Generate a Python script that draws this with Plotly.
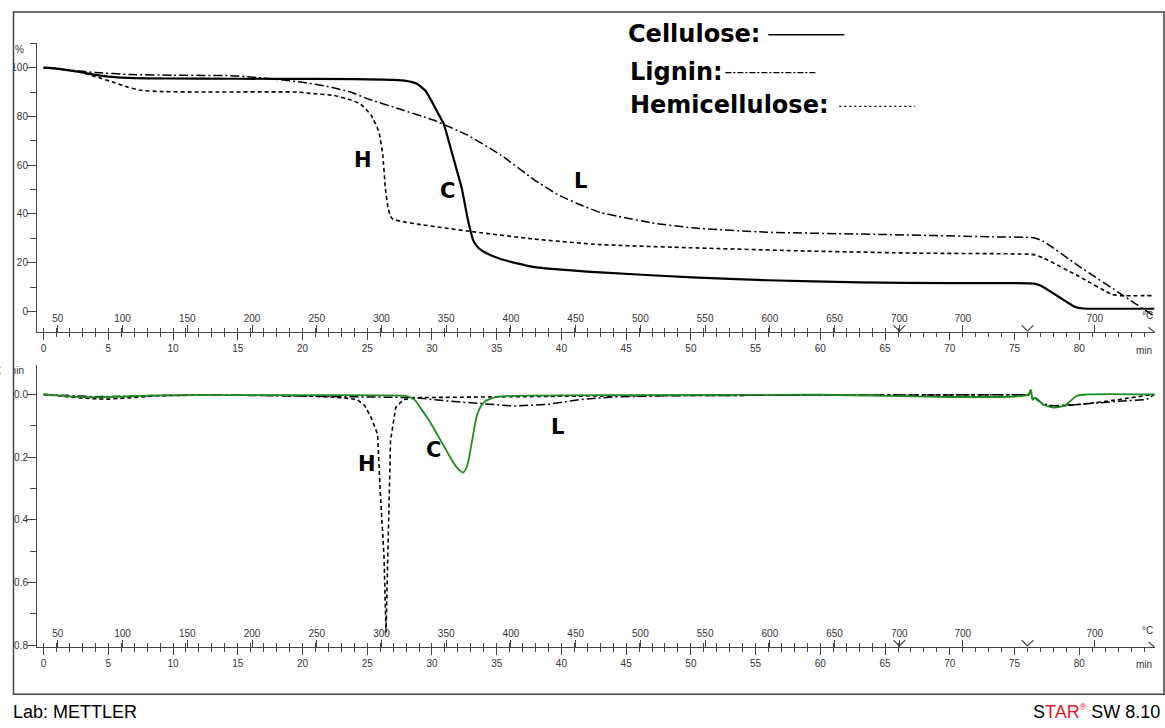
import plotly.graph_objects as go

W, H = 1165, 728

# ---------------- TGA data (weight %, time in min) ----------------
cel_t = [0, 1, 2, 3, 4, 5, 6, 8, 12, 18, 24, 27, 28, 28.8, 29.5, 30.1, 30.5, 30.9, 31.6, 32.3, 32.8,
         33.2, 33.6, 34.0, 35.3, 37.8, 43, 50.1, 55.9, 63, 70, 76.5, 77.0, 78.0, 79.0, 79.7, 80.3, 83, 85.8]
cel_w = [100, 99.6, 98.9, 98.0, 97.0, 96.3, 95.9, 95.6, 95.5, 95.4, 95.3, 95.0, 94.6, 93.5, 90.5, 85,
         81, 77, 64, 50.5, 37, 29, 26, 24.5, 21.5, 18.3, 16.0, 14.0, 12.8, 11.9, 11.6, 11.4, 10.6, 7.4,
         4.0, 1.8, 1.2, 1.1, 1.1]

lig_t = [0, 2, 4, 6.7, 10, 14.5, 16, 18.3, 20, 22, 23.7, 25, 27.5, 30.1, 32.7, 35.3, 37.9, 39.7, 41.7,
         43, 44.4, 47, 50.1, 55.9, 64.6, 73.3, 76.5, 77.2, 80, 83.4, 85.8]
lig_w = [100, 99, 98, 97.2, 96.9, 96.7, 96.2, 95, 94, 92.2, 90, 87.3, 83, 78.5, 72.4, 64.2, 54, 48,
         43.2, 40.6, 39, 36.3, 34.3, 32.5, 31.6, 30.6, 30.2, 28.8, 18.5, 6.5, -2.0]

hem_t = [0, 1, 2, 2.9, 4, 5.4, 6.5, 7.5, 9, 12, 19.6, 20.5, 22.4, 23.7, 24.5, 25.3, 25.9, 26.2, 26.4,
         26.6, 26.8, 27.0, 28, 28.9, 32.7, 37.9, 43, 50.1, 58.8, 67.5, 76.5, 77.2, 80, 82.5, 83.2, 85.8]
hem_w = [100, 99.6, 98.8, 98, 96.3, 94, 92, 90.7, 90.2, 90, 90, 89.5, 88.6, 86.8, 85, 80.5, 73.7, 64.2,
         50.7, 42.7, 39, 37.8, 36.6, 35.8, 33, 29.7, 27.4, 26.1, 24.8, 23.9, 23.3, 22.0, 14.3, 7.0, 6.5, 6.5]

# ---------------- DTG data ----------------
cel_dt = [0, 2, 4, 6, 8, 12, 20, 26, 28.1, 28.6, 29.1, 29.8, 30.4, 31.0, 31.4, 31.9, 32.4, 32.7, 33.1,
          33.5, 34.0, 35, 37, 45, 60, 76.1, 76.25, 76.4, 76.6, 77.2, 78, 78.5, 79, 79.8, 80.6, 85.8]
cel_dv = [0, -0.006, -0.009, -0.007, -0.004, -0.002, -0.002, -0.003, -0.006, -0.015, -0.042, -0.085,
          -0.127, -0.17, -0.2, -0.232, -0.249, -0.23, -0.148, -0.063, -0.026, -0.008, -0.004, -0.002,
          -0.001, 0, 0.015, -0.015, -0.01, -0.032, -0.042, -0.04, -0.032, -0.005, 0, 0]

hem_dt = [0, 1, 3, 5, 7, 9, 12, 18, 21, 23, 24.2, 24.8, 25.3, 25.8, 26.0, 26.3, 26.45, 26.6, 26.7,
          26.8, 27.2, 27.8, 29, 35, 45, 60, 76.1, 76.25, 76.4, 76.6, 77.2, 78, 79, 80, 81.3, 83.1, 85.7]
hem_dv = [0, -0.004, -0.012, -0.015, -0.01, -0.004, -0.002, -0.003, -0.006, -0.01, -0.016, -0.035,
          -0.074, -0.127, -0.306, -0.52, -0.76, -0.52, -0.31, -0.147, -0.042, -0.016, -0.01, -0.008,
          -0.004, -0.002, -0.001, 0.014, -0.016, -0.012, -0.032, -0.04, -0.036, -0.032, -0.026, -0.016, 0]

lig_dt = [0, 2, 4, 6, 9, 14, 20, 24, 28.6, 31.2, 34.3, 36.3, 38.9, 41.5, 44, 48, 60, 76.1, 76.25,
          76.4, 76.6, 77.2, 78, 80, 82.6, 85.2, 85.8]
lig_dv = [0, -0.004, -0.007, -0.006, -0.003, -0.002, -0.005, -0.008, -0.01, -0.021, -0.032, -0.037,
          -0.032, -0.016, -0.008, -0.004, -0.002, -0.001, 0.014, -0.015, -0.012, -0.03, -0.036, -0.032,
          -0.023, -0.016, 0]

# ---------------- axis labels ----------------
time_ticks = list(range(0, 81, 5))
time_labels = [str(v) for v in time_ticks]
temp_labels = ["50", "100", "150", "200", "250", "300", "350", "400", "450", "500", "550", "600",
               "650", "700", "700", "700"]
temp_times = [1.1, 6.1, 11.1, 16.1, 21.1, 26.1, 31.1, 36.1, 41.1, 46.1, 51.1, 56.1, 61.1, 66.1, 71.0, 81.2]
segment_marks = [66.1, 76.0]
tga_ticks = [0, 20, 40, 60, 80, 100]
tga_labels = ["0", "20", "40", "60", "80", "100"]
dtg_ticks = [0, -0.2, -0.4, -0.6, -0.8]
dtg_labels = ["0.0", "-0.2", "-0.4", "-0.6", "-0.8"]
tga_unit = "%"
dtg_unit = "1/min"

XR = [-0.51, 85.85]
YR1 = [-8.5, 110.2]
YR2 = [-0.806, 0.095]
X0, X1 = 36 / W, 1155 / W
Y1_BOTTOM = 334
Y2_BOTTOM = 396.7 + 0.806 * 315


def py(y):
    return 1 - y / H


def pxx(x):
    return x / W


fig = go.Figure()
DASH_H = "4px,3px"
DASH_L = "9px,3px,2px,3px"

fig.add_trace(go.Scatter(x=cel_t, y=cel_w, mode="lines", line=dict(color="black", width=2.2, shape="spline", smoothing=0.5),
                         xaxis="x", yaxis="y", showlegend=False, hoverinfo="skip"))
fig.add_trace(go.Scatter(x=lig_t, y=lig_w, mode="lines", line=dict(color="black", width=1.5, dash=DASH_L, shape="spline", smoothing=0.5),
                         xaxis="x", yaxis="y", showlegend=False, hoverinfo="skip"))
fig.add_trace(go.Scatter(x=hem_t, y=hem_w, mode="lines", line=dict(color="black", width=1.6, dash=DASH_H, shape="spline", smoothing=0.4),
                         xaxis="x", yaxis="y", showlegend=False, hoverinfo="skip"))

fig.add_trace(go.Scatter(x=lig_dt, y=lig_dv, mode="lines", line=dict(color="black", width=1.5, dash=DASH_L),
                         xaxis="x2", yaxis="y2", showlegend=False, hoverinfo="skip"))
fig.add_trace(go.Scatter(x=hem_dt, y=hem_dv, mode="lines", line=dict(color="black", width=1.6, dash=DASH_H),
                         xaxis="x2", yaxis="y2", showlegend=False, hoverinfo="skip"))
fig.add_trace(go.Scatter(x=cel_dt, y=cel_dv, mode="lines", line=dict(color="#1f8a1f", width=1.8, shape="spline", smoothing=0.7),
                         xaxis="x2", yaxis="y2", showlegend=False, hoverinfo="skip"))
# placeholder traces registering the overlay axes (temperature scale, unit labels)
for xa, ya in [("x3", "y"), ("x4", "y2"), ("x", "y3"), ("x2", "y4")]:
    fig.add_trace(go.Scatter(x=[None], y=[None], xaxis=xa, yaxis=ya, showlegend=False, hoverinfo="skip"))

tickfont = dict(family="Liberation Sans, Arial", size=10, color="#333")
minor_in = [i for i in range(0, 67)]


def time_axis(anchor):
    return dict(domain=[X0, X1], range=XR, anchor=anchor, showgrid=False, zeroline=False,
                showline=True, linecolor="#444", linewidth=1, tickmode="array",
                tickvals=time_ticks, ticktext=time_labels, ticks="outside", ticklen=7,
                tickcolor="#444", tickfont=tickfont,
                minor=dict(dtick=1, ticks="outside", ticklen=4, tickcolor="#444"))


def temp_axis(over, ypix):
    # top-sided axis placed on the time-axis line: ticks and labels point up into the panel
    return dict(domain=[X0, X1], range=XR, overlaying=over, anchor="free", position=py(ypix), side="top",
                showgrid=False, zeroline=False, showline=False, tickmode="array",
                tickvals=temp_times, ticktext=temp_labels, ticks="outside", ticklen=7,
                tickcolor="#444", tickfont=tickfont, ticklabelstandoff=-1,
                minor=dict(tickvals=minor_in, ticks="outside", ticklen=4, tickcolor="#444"))


def unit_axis(over, anchor, rng, val, txt):
    return dict(overlaying=over, anchor=anchor, side="left", range=rng, showgrid=False,
                zeroline=False, showline=False, ticks="", tickmode="array", tickvals=[val],
                ticktext=[txt], tickfont=tickfont, ticklabelstandoff=12)


fig.update_layout(
    width=W, height=H, margin=dict(l=0, r=0, t=0, b=0),
    paper_bgcolor="white", plot_bgcolor="white",
    xaxis=time_axis("y"),
    xaxis2=time_axis("y2"),
    xaxis3=temp_axis("x", Y1_BOTTOM),
    xaxis4=temp_axis("x2", Y2_BOTTOM),
    yaxis=dict(domain=[py(Y1_BOTTOM), py(43)], range=YR1, anchor="x", showgrid=False,
               zeroline=False, showline=True, linecolor="#444", linewidth=1, tickmode="array",
               tickvals=tga_ticks, ticktext=tga_labels, ticks="outside", ticklen=9,
               tickcolor="#444", tickfont=tickfont, ticklabelstandoff=-3,
               minor=dict(dtick=10, ticks="outside", ticklen=6, tickcolor="#444")),
    yaxis2=dict(domain=[py(Y2_BOTTOM), py(366.7)], range=YR2, anchor="x2", showgrid=False,
                zeroline=False, showline=True, linecolor="#444", linewidth=1, tickmode="array",
                tickvals=dtg_ticks, ticktext=dtg_labels, ticks="outside", ticklen=9,
                tickcolor="#444", tickfont=tickfont, ticklabelstandoff=-3,
                minor=dict(tickvals=[-0.1, -0.3, -0.5, -0.7], ticks="outside", ticklen=6,
                           tickcolor="#444")),
    yaxis3=unit_axis("y", "x", YR1, 107.6, tga_unit),
    yaxis4=unit_axis("y2", "x2", YR2, 0.078, dtg_unit),
)

heavy = dict(family="DejaVu Sans", size=21, color="black", weight="bold")
ann = []
# curve letters
for txt, x, y, xr, yr in [("H", 24.7, 62, "x", "y"), ("C", 31.2, 49.5, "x", "y"), ("L", 41.5, 53.5, "x", "y"),
                          ("H", 25.0, -0.222, "x2", "y2"), ("C", 30.1, -0.176, "x2", "y2"),
                          ("L", 39.7, -0.103, "x2", "y2")]:
    ann.append(dict(text=txt, x=x, y=y, xref=xr, yref=yr, showarrow=False, font=heavy,
                    xanchor="center", yanchor="middle"))
# min / °C labels
for xr, ay in [("x", Y1_BOTTOM), ("x2", Y2_BOTTOM)]:
    ann.append(dict(text="min", x=85.0, y=py(ay + 18), xref=xr, yref="paper", showarrow=False, font=tickfont,
                    xanchor="center", yanchor="middle"))
    ann.append(dict(text="°C", x=85.3, y=py(ay - 17), xref=xr, yref="paper", showarrow=False, font=tickfont,
                    xanchor="center", yanchor="middle"))
# legend text
leg = dict(family="DejaVu Sans", size=24, color="black", weight="bold")
for txt, x, y in [("Cellulose:", 626, 34), ("Lignin:", 628, 72), ("Hemicellulose:", 628, 106)]:
    ann.append(dict(text=txt, x=pxx(x), y=py(y), xref="paper", yref="paper", xanchor="left",
                    yanchor="middle", showarrow=False, font=leg))
# footer
foot = dict(family="Liberation Sans, Arial", size=18, color="black")
ann.append(dict(text="Lab: METTLER", x=pxx(10), y=py(716), xref="paper", yref="paper", xanchor="left",
                yanchor="middle", showarrow=False, font=foot))
ann.append(dict(text="S<span style='color:#e8191f'>TAR</span><sup><span style='color:#e8191f;font-size:9px'>®</span></sup> SW 8.10",
                x=pxx(1162), y=py(716), xref="paper", yref="paper", xanchor="right", yanchor="middle",
                showarrow=False, font=foot))
fig.update_layout(annotations=ann)

shapes = [
    # clip strip left of frame
    dict(type="rect", xref="paper", yref="paper", x0=0, x1=pxx(12.5), y0=py(698), y1=py(12),
         fillcolor="white", line=dict(width=0), layer="above"),
    # frame
    dict(type="rect", xref="paper", yref="paper", x0=pxx(12.5), x1=pxx(1164), y0=py(698), y1=py(12),
         line=dict(color="#444", width=1.5), layer="above"),
    # legend sample lines
    dict(type="line", xref="paper", yref="paper", x0=pxx(768), x1=pxx(844), y0=py(35), y1=py(35),
         line=dict(color="black", width=1.5)),
    dict(type="line", xref="paper", yref="paper", x0=pxx(725), x1=pxx(816), y0=py(73), y1=py(73),
         line=dict(color="black", width=1.3, dash="6px,2px,2px,2px")),
    dict(type="line", xref="paper", yref="paper", x0=pxx(839), x1=pxx(915), y0=py(107), y1=py(107),
         line=dict(color="black", width=1.3, dash="2px,3px")),
]
# segment markers on the time axes
for xr, ay in [("x", Y1_BOTTOM), ("x2", Y2_BOTTOM)]:
    for tm in segment_marks:
        shapes.append(dict(type="line", xref=xr, yref="paper", x0=tm - 0.45, x1=tm, y0=py(ay - 7), y1=py(ay - 1),
                           line=dict(color="#444", width=1.2)))
        shapes.append(dict(type="line", xref=xr, yref="paper", x0=tm + 0.45, x1=tm, y0=py(ay - 7), y1=py(ay - 1),
                           line=dict(color="#444", width=1.2)))
    shapes.append(dict(type="line", xref=xr, yref="paper", x0=85.35, x1=85.8, y0=py(ay - 5), y1=py(ay),
                       line=dict(color="#444", width=1.2)))
fig.update_layout(shapes=shapes)

fig.write_html("out.html", config={"displayModeBar": False},
               post_script="document.body.style.margin='0';document.body.style.overflow='hidden';")
